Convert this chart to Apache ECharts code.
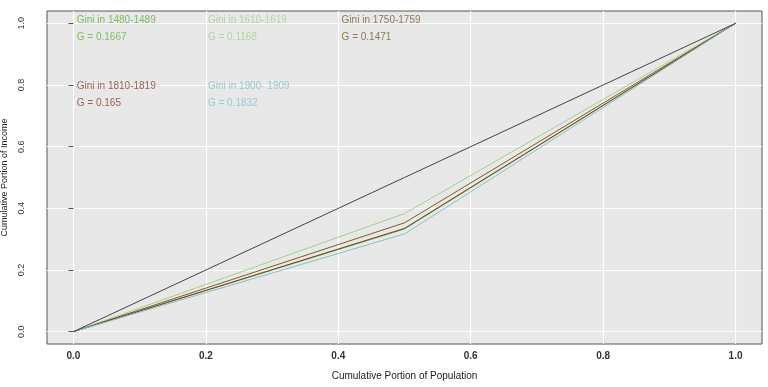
<!DOCTYPE html>
<html>
<head>
<meta charset="utf-8">
<script src="https://cdn.jsdelivr.net/npm/echarts@6/dist/echarts.min.js"></script>
<style>html,body{margin:0;padding:0;background:#fff;}#c{width:768px;height:387px;}</style>
</head>
<body>
<div id="c"></div>
<script>
// Data
const population = [0, 0.5, 1];
const equality = [0, 0.5, 1];
const income1480 = [0, 0.333, 1];
const income1610 = [0, 0.383, 1];
const income1750 = [0, 0.353, 1];
const income1810 = [0, 0.335, 1];
const income1900 = [0, 0.317, 1];
const tickValues = [0, 0.2, 0.4, 0.6, 0.8, 1.0];

const seriesNames = ['Gini in 1480-1489', 'Gini in 1610-1619', 'Gini in 1750-1759', 'Gini in 1810-1819', 'Gini in 1900- 1909'];
const giniLabels = ['G = 0.1667', 'G = 0.1168', 'G = 0.1471', 'G = 0.165', 'G = 0.1832'];
const annotX = [0.005, 0.203, 0.405, 0.005, 0.203];
const annotY = [1.01, 1.01, 1.01, 0.795, 0.795];
const annotY2 = [0.955, 0.955, 0.955, 0.742, 0.742];
const colors = ['#5bb534', '#9ed486', '#7d5a26', '#853f22', '#80c2cf'];
const incomes = [income1480, income1610, income1750, income1810, income1900];

const font = 'Liberation Sans, Arial, sans-serif';
const pairs = (xs, ys) => xs.map((x, i) => [x, ys[i]]);

const series = [];
series.push({
  type: 'line', data: pairs(population, equality), showSymbol: false, silent: true,
  lineStyle: { color: '#444', width: 1 }, z: 3
});
incomes.forEach((inc, i) => {
  series.push({
    type: 'line', name: seriesNames[i], data: pairs(population, inc), showSymbol: false, silent: true,
    lineStyle: { color: colors[i], width: 1 }, z: 2
  });
});
// text annotations
const annData = [];
seriesNames.forEach((n, i) => {
  annData.push({ value: [annotX[i], annotY[i]], label: { formatter: n, color: colors[i] } });
  annData.push({ value: [annotX[i], annotY2[i]], label: { formatter: giniLabels[i], color: colors[i] } });
});
series.push({
  type: 'scatter', data: annData, symbolSize: 0, silent: true, z: 5,
  label: { show: true, position: 'right', distance: 0, fontFamily: font, fontSize: 10 }
});

const chart = echarts.init(document.getElementById('c'), null, { renderer: 'canvas' });
chart.setOption({
  animation: false,
  backgroundColor: '#ffffff',
  grid: { left: 47, right: 6, top: 11, bottom: 43, containLabel: false, outerBoundsMode: 'none', show: true, backgroundColor: '#e8e8e8', borderColor: '#555', borderWidth: 1 },
  xAxis: {
    type: 'value', min: -0.04, max: 1.04,
    name: 'Cumulative Portion of Population', nameLocation: 'middle', nameGap: 27,
    nameTextStyle: { fontFamily: font, fontSize: 10, color: '#222' },
    axisLine: { show: false },
    axisTick: { show: false, customValues: tickValues },
    axisLabel: { customValues: tickValues, formatter: v => v.toFixed(1), fontFamily: font, fontSize: 10, fontWeight: 'bold', color: '#333', margin: 7 },
    splitLine: { show: true, lineStyle: { color: '#ffffff', width: 1.2 } }
  },
  yAxis: {
    type: 'value', min: -0.04, max: 1.04,
    name: 'Cumulative Portion of Income', nameLocation: 'middle', nameGap: 35, nameRotate: 90,
    nameTextStyle: { fontFamily: font, fontSize: 9, color: '#222' },
    axisLine: { show: false },
    axisTick: { show: true, customValues: tickValues, length: 5, lineStyle: { color: '#555' } },
    axisLabel: { customValues: tickValues, formatter: v => v.toFixed(1), rotate: 90, fontFamily: font, fontSize: 9, color: '#333', margin: 21 },
    splitLine: { show: true, lineStyle: { color: '#ffffff', width: 1.2 } }
  },
  series: series
});
</script>
</body>
</html>
